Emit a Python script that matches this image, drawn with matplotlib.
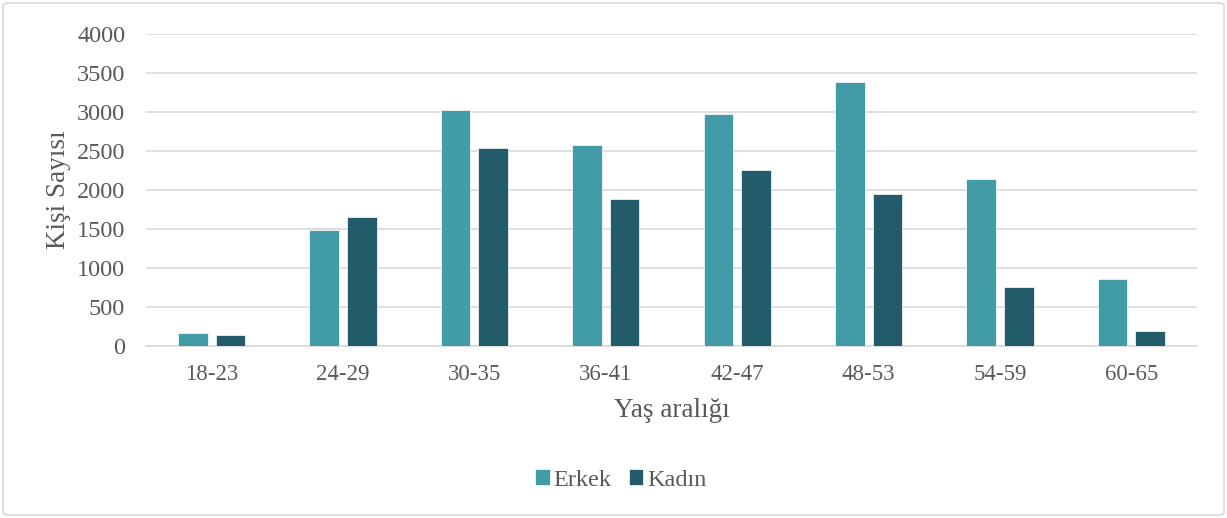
import matplotlib
matplotlib.use("Agg")
import matplotlib.pyplot as plt
from matplotlib.patches import FancyBboxPatch
import numpy as np

categories = ["18-23", "24-29", "30-35", "36-41", "42-47", "48-53", "54-59", "60-65"]
erkek = [165, 1490, 3030, 2580, 2975, 3380, 2140, 860]
kadin = [140, 1655, 2540, 1880, 2255, 1955, 760, 195]
yticks = [0, 500, 1000, 1500, 2000, 2500, 3000, 3500, 4000]

plt.rcParams['font.family'] = ['Liberation Serif', 'DejaVu Serif']
text_color = "#595959"

fig = plt.figure(figsize=(12.27, 5.18), dpi=100)
W, H = 1227, 518
ax = fig.add_axes([146 / W, 1 - 346 / H, (1197 - 146) / W, (346 - 34) / H])

x = np.arange(len(categories))
w = 0.225
off = 0.143
ax.bar(x - off, erkek, w, color="#429CA7", edgecolor="white", linewidth=0.5, label="Erkek", zorder=3)
ax.bar(x + off, kadin, w, color="#225B69", edgecolor="white", linewidth=0.5, label="Kadın", zorder=3)

ax.set_xlim(-0.5, len(categories) - 0.5)
ax.set_ylim(0, 4000)
ax.set_yticks(yticks)
ax.set_yticklabels([str(v) for v in yticks])
ax.set_xticks(x)
ax.set_xticklabels(categories)
ax.yaxis.grid(True, color="#D9D9D9", linewidth=1.2, zorder=0)
ax.set_axisbelow(True)
for s in ["top", "right", "left"]:
    ax.spines[s].set_visible(False)
ax.spines["bottom"].set_color("#D9D9D9")
ax.spines["bottom"].set_linewidth(1.2)
ax.tick_params(axis="x", length=0, labelsize=16.5, colors=text_color, pad=13)
ax.tick_params(axis="y", length=0, labelsize=17.5, colors=text_color, pad=15)

ax.set_ylabel("Kişi Sayısı", fontsize=19.5, color=text_color, labelpad=4)
ax.set_xlabel("Yaş aralığı", fontsize=19.5, color=text_color, labelpad=9)

leg = fig.legend(loc="center", bbox_to_anchor=(0.506, 1 - 480 / H), ncol=2, frameon=False,
                 fontsize=17.5, handlelength=0.6, handleheight=0.6, handletextpad=0.15,
                 columnspacing=0.7)
for t in leg.get_texts():
    t.set_color(text_color)

border = FancyBboxPatch((3 / W, 3 / H), 1 - 6 / W, 1 - 6 / H, boxstyle="round,pad=0,rounding_size=0.005",
                        transform=fig.transFigure, fill=False, edgecolor="#D9D9D9", linewidth=1.2)
fig.patches.append(border)

fig.savefig("out.png", dpi=100, facecolor="white")
